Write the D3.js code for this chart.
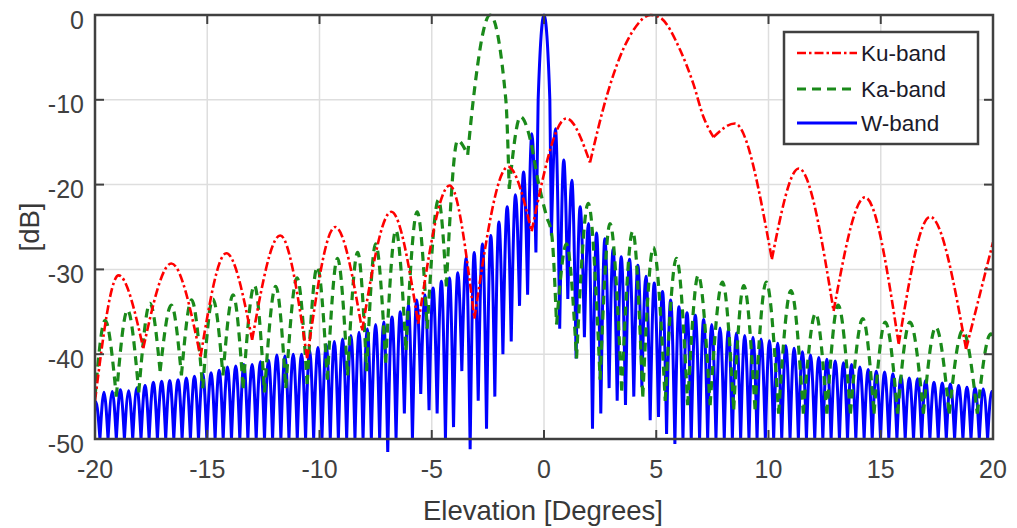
<!DOCTYPE html>
<html>
<head>
<meta charset="utf-8">
<script src="https://cdn.jsdelivr.net/npm/d3@7"></script>
<style>
  body { margin: 0; background: #fff; }
  text { font-family: "Liberation Sans", Arial, sans-serif; }
</style>
</head>
<body>
<svg id="chart" width="1017" height="528"></svg>
<script>
var xTicks = [-20, -15, -10, -5, 0, 5, 10, 15, 20]
var yTicks = [0, -10, -20, -30, -40, -50]
var seriesNames = ['Ku-band', 'Ka-band', 'W-band']

// [elevation deg, dB]: nulls and lobe peaks
var kuBand = [
  [-20, -45.5], [-18.95, -30.7], [-17.85, -39.3], [-16.6, -29.3], [-15.3, -40.3],
  [-14.15, -28.1], [-13.0, -38.3], [-11.75, -26.0], [-10.55, -40.5], [-9.3, -25.0],
  [-8.1, -37.2], [-6.8, -23.2], [-5.6, -36.4], [-4.2, -20.1], [-3.1, -35.8],
  [-1.6, -17.9], [-0.55, -25.5], [1.0, -12.2], [2.05, -17.4], [2.79, -9.6],
  [3.39, -4.9], [3.98, -1.8], [4.75, 0], [5.17, -0.3], [6.06, -4.1], [6.65, -8.1],
  [7.1, -12.0], [7.55, -14.4], [8.5, -12.8], [10.15, -28.8], [11.35, -18.1],
  [12.9, -34.9], [14.3, -21.5], [15.8, -38.8], [17.2, -23.8], [18.8, -39.4], [20, -26.8]
]

var kaBand = [
  [-20, -45.0], [-19.55, -36.0], [-19.05, -45.0], [-18.55, -34.8], [-18.05, -44.5],
  [-17.55, -34.0], [-17.1, -42.0], [-16.6, -34.2], [-16.15, -42.5], [-15.7, -33.6],
  [-15.2, -44.0], [-14.75, -33.5], [-14.3, -42.5], [-13.85, -33.0], [-13.4, -44.0],
  [-12.9, -31.9], [-12.45, -44.5], [-11.95, -32.0], [-11.5, -44.0], [-11.0, -31.0],
  [-10.55, -43.5], [-10.1, -29.7], [-9.65, -43.0], [-9.2, -28.7], [-8.75, -42.5],
  [-8.3, -28.0], [-7.9, -42.0], [-7.5, -27.0], [-7.05, -41.0], [-6.6, -25.4],
  [-6.15, -39.5], [-5.65, -23.2], [-5.2, -37.0], [-4.7, -21.8], [-4.35, -32.0],
  [-3.85, -14.8], [-3.4, -16.5], [-3.15, -10.0], [-2.4, 0], [-1.7, -10.0],
  [-1.55, -20.5], [-1.05, -12.0], [-0.6, -14.8], [-0.27, -19.5], [0.12, -23.8],
  [0.34, -25.8], [0.56, -36.5], [1.0, -27.0], [1.45, -40.5], [1.97, -22.2],
  [2.5, -43.0], [2.94, -24.6], [3.46, -44.3], [3.95, -25.5], [4.4, -45.0],
  [4.87, -27.4], [5.4, -45.5], [5.9, -28.7], [6.4, -46.0], [6.87, -30.7],
  [7.4, -46.0], [7.95, -31.5], [8.45, -46.5], [8.9, -31.9], [9.4, -46.5],
  [9.9, -31.5], [10.45, -47.0], [11.0, -32.5], [11.55, -47.0], [12.1, -35.2],
  [12.6, -47.0], [13.1, -34.2], [13.65, -47.0], [14.2, -35.8], [14.7, -47.0],
  [15.2, -36.2], [15.75, -47.0], [16.3, -36.2], [16.9, -47.0], [17.45, -36.8],
  [18.05, -47.0], [18.65, -37.2], [19.3, -47.0], [19.9, -37.6], [20, -38.0]
]

var wPeaks = [
  [-19.96, -45.6], [-19.60, -44.5], [-19.23, -44.4], [-18.87, -44.2], [-18.50, -44.3],
  [-18.13, -44.0], [-17.77, -43.7], [-17.40, -43.3], [-17.03, -43.2], [-16.67, -43.1],
  [-16.30, -43.0], [-15.93, -42.8], [-15.57, -42.6], [-15.20, -42.3], [-14.83, -42.2],
  [-14.47, -41.9], [-14.10, -41.5], [-13.73, -41.4], [-13.37, -41.2], [-13.00, -41.2],
  [-12.63, -40.9], [-12.27, -40.7], [-11.90, -40.1], [-11.54, -40.2], [-11.17, -40.0],
  [-10.80, -40.0], [-10.44, -39.6], [-10.07, -39.2], [-9.70, -38.9], [-9.34, -38.5],
  [-8.97, -38.2], [-8.60, -37.8], [-8.24, -37.4], [-7.87, -37.0], [-7.50, -36.5],
  [-7.14, -36.2], [-6.77, -35.6], [-6.40, -35.0], [-6.04, -34.2], [-5.67, -33.6],
  [-5.30, -33.0], [-4.94, -32.2], [-4.57, -31.4], [-4.21, -31.0], [-3.84, -30.4],
  [-3.47, -28.6], [-3.11, -28.0], [-2.74, -27.0], [-2.37, -26.0], [-2.01, -24.4],
  [-1.64, -22.6], [-1.27, -21.2], [-0.91, -18.5], [-0.54, -14.0],
  [0, 0],
  [0.51, -13.4], [0.88, -17.1], [1.24, -19.5], [1.61, -22.6], [1.98, -24.6],
  [2.34, -25.7], [2.71, -26.4], [3.08, -27.6], [3.44, -28.5], [3.81, -28.8],
  [4.18, -29.5], [4.54, -30.8], [4.91, -31.6], [5.28, -32.6], [5.64, -33.6],
  [6.01, -34.4], [6.37, -35.1], [6.74, -35.4], [7.11, -35.9], [7.47, -36.5],
  [7.84, -36.9], [8.21, -37.1], [8.57, -37.5], [8.94, -37.8], [9.31, -38.0],
  [9.67, -38.2], [10.04, -38.4], [10.41, -38.7], [10.77, -39.0], [11.14, -39.3],
  [11.51, -39.7], [11.87, -40.1], [12.24, -40.4], [12.60, -40.6], [12.97, -40.8],
  [13.34, -41.0], [13.70, -41.2], [14.07, -41.5], [14.44, -41.8], [14.80, -42.0],
  [15.17, -42.1], [15.54, -42.3], [15.90, -42.6], [16.27, -42.8], [16.64, -42.9],
  [17.00, -43.1], [17.37, -43.3], [17.74, -43.4], [18.10, -43.5], [18.47, -43.7],
  [18.84, -43.9], [19.20, -44.0], [19.57, -44.1], [19.94, -44.4]
]

// flanks of the W-band main beam
var wMainLobe = [[-0.26, -10], [0.26, -10]]

var wNulls = [
  [-20, -46.0], [-19.78, -50], [-19.42, -50], [-19.05, -50], [-18.69, -50],
  [-18.32, -50], [-17.95, -50], [-17.59, -50], [-17.22, -50], [-16.85, -50],
  [-16.49, -50], [-16.12, -50], [-15.75, -50], [-15.39, -50], [-15.02, -50],
  [-14.65, -50], [-14.29, -50], [-13.92, -50], [-13.55, -50], [-13.19, -50],
  [-12.82, -50], [-12.45, -50], [-12.09, -50], [-11.72, -50], [-11.36, -50],
  [-10.99, -50], [-10.62, -50], [-10.26, -50], [-9.89, -50], [-9.52, -50],
  [-9.16, -50], [-8.79, -50], [-8.42, -50], [-8.06, -50], [-7.69, -50],
  [-7.32, -50], [-6.96, -51.6], [-6.59, -50], [-6.22, -47.0], [-5.86, -50],
  [-5.49, -44.7], [-5.12, -46.6], [-4.76, -47.0], [-4.39, -50], [-4.03, -48.6],
  [-3.66, -42.0], [-3.29, -51.2], [-2.93, -45.5], [-2.56, -48.8], [-2.19, -45.0],
  [-1.83, -40.0], [-1.46, -38.5], [-1.09, -34.3], [-0.73, -33.0], [-0.36, -28.0],
  [0.33, -26.0], [0.70, -37.0], [1.06, -33.5], [1.43, -40.5], [1.80, -38.0],
  [2.16, -48.8], [2.53, -47.0], [2.90, -44.0], [3.26, -45.5], [3.63, -46.0],
  [4.00, -45.0], [4.36, -43.9], [4.73, -47.8], [5.10, -47.4], [5.46, -49.4],
  [5.83, -50.6], [6.19, -50], [6.56, -50], [6.93, -50], [7.29, -50],
  [7.66, -50], [8.03, -50], [8.39, -50], [8.76, -50], [9.13, -50],
  [9.49, -50], [9.86, -50], [10.23, -50], [10.59, -50], [10.96, -50],
  [11.33, -50], [11.69, -50], [12.06, -50], [12.42, -50], [12.79, -50],
  [13.16, -50], [13.52, -50], [13.89, -50], [14.26, -50], [14.62, -50],
  [14.99, -50], [15.36, -50], [15.72, -50], [16.09, -50], [16.46, -50],
  [16.82, -50], [17.19, -50], [17.56, -50], [17.92, -50], [18.29, -50],
  [18.66, -50], [19.02, -50], [19.39, -50], [19.76, -50], [20, -44.6]
]

var wBand = wPeaks.concat(wMainLobe, wNulls).sort(function(a, b) { return a[0] - b[0] })

var svg = d3.select('#chart')
var pLeft = 95, pRight = 993, pTop = 15, pBottom = 439

var x = d3.scaleLinear().domain([-20, 20]).range([pLeft, pRight])
var y = d3.scaleLinear().domain([-50, 0]).range([pBottom, pTop])

svg.append('rect').attr('width', 1017).attr('height', 528).attr('fill', '#fff')

// grid
svg.append('g').selectAll('line')
  .data(xTicks.slice(1, -1))
  .join('line')
  .attr('x1', d => x(d)).attr('x2', d => x(d))
  .attr('y1', pTop).attr('y2', pBottom)
  .attr('stroke', '#dedede').attr('stroke-width', 1.5)
svg.append('g').selectAll('line')
  .data(yTicks.slice(1, -1))
  .join('line')
  .attr('x1', pLeft).attr('x2', pRight)
  .attr('y1', d => y(d)).attr('y2', d => y(d))
  .attr('stroke', '#dedede').attr('stroke-width', 1.5)

svg.append('clipPath').attr('id', 'plotclip')
  .append('rect')
  .attr('x', pLeft).attr('y', pTop - 3)
  .attr('width', pRight - pLeft).attr('height', pBottom - pTop + 16)

// split a pattern at its nulls so every lobe is its own arch
function lobes(pts) {
  var segs = [], cur = [pts[0]]
  for (var i = 1; i < pts.length; i++) {
    cur.push(pts[i])
    if (i < pts.length - 1 && pts[i][1] < pts[i - 1][1] && pts[i][1] <= pts[i + 1][1]) {
      segs.push(cur)
      cur = [pts[i]]
    }
  }
  segs.push(cur)
  return segs
}

var line = d3.line()
  .x(d => x(d[0]))
  .y(d => y(d[1]))
  .curve(d3.curveMonotoneX)

function lobePath(pts) {
  return lobes(pts).map(s => line(s)).join('')
}

var plot = svg.append('g').attr('clip-path', 'url(#plotclip)')

var styles = {
  'Ku-band': { color: '#ff0000', width: 2.6, dash: '9,3,2.5,3' },
  'Ka-band': { color: '#1a8a1a', width: 3.2, dash: '9,6' },
  'W-band': { color: '#0000ff', width: 3, dash: null }
}

plot.append('path')
  .attr('d', lobePath(wBand))
  .attr('fill', 'none')
  .attr('stroke', styles['W-band'].color)
  .attr('stroke-width', styles['W-band'].width)
  .attr('stroke-linejoin', 'round')

plot.append('path')
  .attr('d', lobePath(kaBand))
  .attr('fill', 'none')
  .attr('stroke', styles['Ka-band'].color)
  .attr('stroke-width', styles['Ka-band'].width)
  .attr('stroke-dasharray', styles['Ka-band'].dash)

plot.append('path')
  .attr('d', lobePath(kuBand))
  .attr('fill', 'none')
  .attr('stroke', styles['Ku-band'].color)
  .attr('stroke-width', styles['Ku-band'].width)
  .attr('stroke-dasharray', styles['Ku-band'].dash)

// axes box and inward ticks (top/right mirrored)
var axisColor = '#404040'
var ticks = svg.append('g').attr('stroke', axisColor).attr('stroke-width', 2)
xTicks.forEach(function(t) {
  ticks.append('line').attr('x1', x(t)).attr('x2', x(t)).attr('y1', pBottom).attr('y2', pBottom - 9)
  ticks.append('line').attr('x1', x(t)).attr('x2', x(t)).attr('y1', pTop).attr('y2', pTop + 9)
})
yTicks.forEach(function(t) {
  ticks.append('line').attr('x1', pLeft).attr('x2', pLeft + 9).attr('y1', y(t)).attr('y2', y(t))
  ticks.append('line').attr('x1', pRight).attr('x2', pRight - 9).attr('y1', y(t)).attr('y2', y(t))
})
svg.append('rect')
  .attr('x', pLeft).attr('y', pTop)
  .attr('width', pRight - pLeft).attr('height', pBottom - pTop)
  .attr('fill', 'none').attr('stroke', axisColor).attr('stroke-width', 2.5)

// tick labels
svg.append('g').selectAll('text')
  .data(xTicks)
  .join('text')
  .attr('x', d => x(d)).attr('y', 478)
  .attr('text-anchor', 'middle')
  .attr('font-size', 25).attr('fill', '#404040')
  .text(d => d)
svg.append('g').selectAll('text')
  .data(yTicks)
  .join('text')
  .attr('x', 84).attr('y', d => y(d) + 13.5)
  .attr('text-anchor', 'end')
  .attr('font-size', 25).attr('fill', '#404040')
  .text(d => d)

svg.append('text')
  .attr('x', 543).attr('y', 520)
  .attr('text-anchor', 'middle')
  .attr('font-size', 27.5).attr('fill', '#383838')
  .text('Elevation [Degrees]')
svg.append('text')
  .attr('transform', 'translate(39,227) rotate(-90)')
  .attr('text-anchor', 'middle')
  .attr('font-size', 27.5).attr('fill', '#383838')
  .text('[dB]')

// legend
var legend = svg.append('g')
legend.append('rect')
  .attr('x', 784).attr('y', 32).attr('width', 194).attr('height', 112)
  .attr('fill', '#fff').attr('stroke', axisColor).attr('stroke-width', 2.5)
var legendY = [53, 89, 123]
seriesNames.forEach(function(name, i) {
  var s = styles[name]
  legend.append('line')
    .attr('x1', 797).attr('x2', 857)
    .attr('y1', legendY[i]).attr('y2', legendY[i])
    .attr('stroke', s.color).attr('stroke-width', s.width)
    .attr('stroke-dasharray', s.dash)
  legend.append('text')
    .attr('x', 861).attr('y', legendY[i] + 8)
    .attr('font-size', 22.5).attr('fill', '#1a1a2a')
    .text(name)
})
</script>
</body>
</html>
